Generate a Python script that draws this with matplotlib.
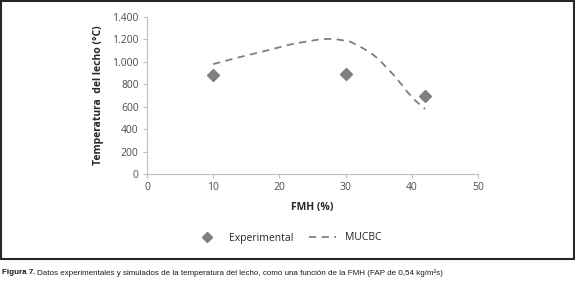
import matplotlib
matplotlib.use("Agg")
import matplotlib.pyplot as plt
from matplotlib.patches import Rectangle
from matplotlib.lines import Line2D

plt.rcParams['font.family'] = ['Open Sans', 'DejaVu Sans']

# Experimental data
fmh_exp = [10, 30, 42]
temp_exp = [885, 892, 700]

# MUCBC simulated curve
fmh_sim = [10, 13.5, 17, 20, 22, 24, 26, 27.4, 29, 30.7, 32.2, 33.7, 35, 36.2, 37.5, 38.5, 39.5, 40.7, 42]
temp_sim = [980, 1035, 1085, 1130, 1160, 1180, 1200, 1205, 1198, 1180, 1135, 1085, 1023, 948, 868, 794, 720, 645, 580]

x_ticks = [0, 10, 20, 30, 40, 50]
y_ticks = [0, 200, 400, 600, 800, 1000, 1200, 1400]
y_labels = ["0", "200", "400", "600", "800", "1.000", "1.200", "1.400"]

fig = plt.figure(figsize=(5.75, 2.86), dpi=100)
ax = fig.add_axes([147 / 575, 1 - 174 / 286, 331 / 575, 157 / 286])

ax.plot(fmh_sim, temp_sim, color="#7f7f7f", lw=1.3, ls=(0, (4, 3)), label="MUCBC")
ax.plot(fmh_exp, temp_exp, ls="none", marker="D", ms=6, color="#7f7f7f", label="Experimental")

ax.set_xlim(0, 50)
ax.set_ylim(0, 1400)
ax.set_xticks(x_ticks)
ax.set_yticks(y_ticks)
ax.set_yticklabels(y_labels)
for s in ["top", "right"]:
    ax.spines[s].set_visible(False)
for s in ["left", "bottom"]:
    ax.spines[s].set_color("#bfbfbf")
    ax.spines[s].set_linewidth(0.8)
ax.tick_params(direction="out", length=3, width=0.8, color="#bfbfbf",
               labelsize=7.5, labelcolor="#4d4d4d", pad=3)

ax.set_xlabel("FMH (%)", fontsize=7.5, fontweight="bold", color="#262626", labelpad=6)
ax.set_ylabel("Temperatura  del lecho (°C)", fontsize=7.5, fontweight="bold", color="#262626", labelpad=6)

handles = [Line2D([], [], ls="none", marker="D", ms=5, color="#7f7f7f"),
           Line2D([], [], color="#7f7f7f", lw=1.3, ls=(0, (4, 3)))]
fig.legend(handles, ["Experimental", "MUCBC"], loc="center", bbox_to_anchor=(0.5, 1 - 238 / 286),
           ncol=2, frameon=False, fontsize=7.5, handlelength=2.6, columnspacing=1.5,
           labelcolor="#262626")

# border box
fig.patches.append(Rectangle((0.002, 1 - 259 / 286), 0.996, 259 / 286 - 0.004,
                             transform=fig.transFigure, fill=False, ec="#262626", lw=1.5))

# caption
cap_font = ['Liberation Sans', 'DejaVu Sans']
t1 = fig.text(2 / 575, 1 - 273 / 286, "Figura 7.", fontsize=5.8, fontweight="bold",
              family=cap_font, va="center", color="#1a1a1a")
r = fig.canvas.get_renderer()
bb = t1.get_window_extent(r)
fig.text(bb.x1 / 575 + 0.003, 1 - 273 / 286,
         "Datos experimentales y simulados de la temperatura del lecho, como una función de la FMH (FAP de 0,54 kg/m²s)",
         fontsize=5.8, family=cap_font, va="center", color="#1a1a1a")

fig.savefig("out.png", dpi=100)
